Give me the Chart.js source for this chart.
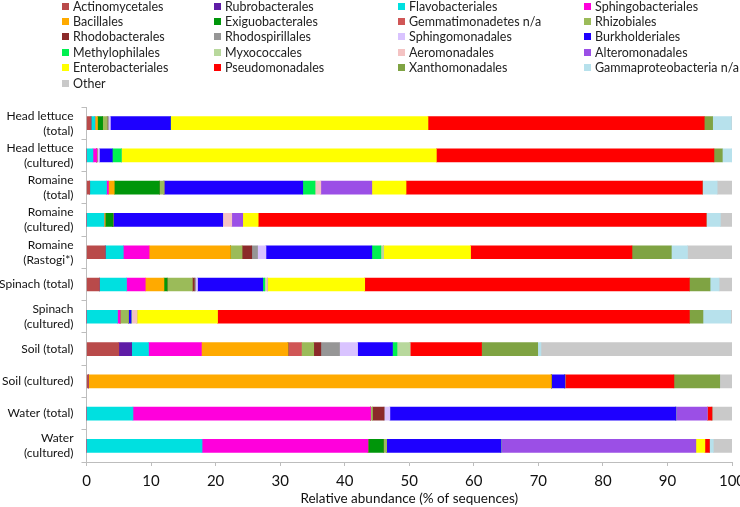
<!DOCTYPE html>
<html>
<head>
<meta charset="utf-8">
<script src="https://cdn.jsdelivr.net/npm/chart.js@4.4.1/dist/chart.umd.min.js"></script>
<style>
  body { margin: 0; background: #fff; }
  #wrap { position: relative; width: 740px; height: 507px; overflow: hidden; }
  #chart1 { position: absolute; left: 0; top: 0; }
  .leg { position: absolute; font-family: Lato, sans-serif; font-size: 12.5px; color: #222; line-height: 15px; white-space: nowrap; }
  .leg span { display: inline-block; width: 7px; height: 7px; margin-right: 4px; vertical-align: 1px; }
</style>
</head>
<body>
<div id="wrap">
  <canvas id="chart1" width="740" height="507"></canvas>
  <div id="legend"></div>
</div>
<script>
// samples (top to bottom)
var samples = [
  ["Head lettuce", "(total)"],
  ["Head lettuce", "(cultured)"],
  ["Romaine", "(total)"],
  ["Romaine", "(cultured)"],
  ["Romaine", "(Rastogi*)"],
  "Spinach (total)",
  ["Spinach", "(cultured)"],
  "Soil (total)",
  "Soil (cultured)",
  "Water (total)",
  ["Water", "(cultured)"]
];

// % of sequences per order, same order as samples
var actinomycetales    = [0.7, 0,   0.5,  0,    2.9,  2.0,  0,    5.0,  0.3,  0,    0];
var rubrobacterales    = [0,   0,   0,    0,    0,    0,    0,    2.0,  0,    0,    0];
var flavobacteriales   = [0.6, 1.0, 2.6,  2.7,  2.8,  4.2,  4.8,  2.6,  0,    7.2,  17.9];
var sphingobacteriales = [0,   0.6, 0.3,  0,    4.0,  2.9,  0.4,  8.2,  0,    36.8, 25.7];
var bacillales         = [0.4, 0,   0.9,  0.2,  12.6, 2.9,  0,    13.4, 71.7, 0,    0];
var exiguobacterales   = [0.8, 0,   7.0,  1.2,  0,    0.5,  0,    0,    0,    0,    2.4];
var gemmatimonadetes   = [0,   0,   0,    0,    0,    0,    0,    2.1,  0,    0,    0];
var rhizobiales        = [0.7, 0,   0.7,  0,    1.8,  3.9,  1.3,  1.9,  0,    0.3,  0.5];
var rhodobacterales    = [0,   0,   0,    0,    1.5,  0.3,  0,    1.1,  0,    1.8,  0];
var rhodospirillales   = [0.2, 0,   0,    0,    0.9,  0.2,  0,    2.9,  0,    0,    0];
var sphingomonadales   = [0.3, 0.4, 0,    0,    1.3,  0.3,  0,    2.8,  0,    0.9,  0];
var burkholderiales    = [9.3, 2.0, 21.5, 17.0, 16.4, 10.1, 0.4,  5.4,  2.1,  44.3, 17.7];
var methylophilales    = [0,   1.4, 1.9,  0,    1.4,  0.3,  0,    0.7,  0,    0,    0];
var myxococcales       = [0,   0,   0,    0,    0.4,  0.2,  0,    2.0,  0,    0,    0];
var aeromonadales      = [0,   0,   0.9,  1.4,  0,    0.2,  0.9,  0,    0,    0,    0];
var alteromonadales    = [0,   0,   7.9,  1.7,  0,    0,    0,    0,    0,    4.9,  30.2];
var enterobacteriales  = [39.9, 48.8, 5.3, 2.4, 13.5, 15.1, 12.5, 0,    0,    0,    1.4];
var pseudomonadales    = [42.8, 43.0, 45.9, 69.4, 25.0, 50.3, 73.1, 11.1, 16.9, 0.7, 0.7];
var xanthomonadales    = [1.3, 1.3, 0,    0,    6.1,  3.2,  2.1,  8.7,  7.1,  0,    0];
var gammaNA            = [2.9, 1.5, 2.3,  2.2,  2.5,  1.4,  4.3,  0.5,  0,    0,    0.6];
var other              = [0.3, 0.1, 2.3,  1.8,  6.9,  2.0,  0.2,  29.6, 1.9,  3.1,  2.9];

var xTicks = [0, 10, 20, 30, 40, 50, 60, 70, 80, 90, 100];

var orders = [
  ["Actinomycetales", actinomycetales, "#B94A4A"],
  ["Rubrobacterales", rubrobacterales, "#5F1CA6"],
  ["Flavobacteriales", flavobacteriales, "#00E0E0"],
  ["Sphingobacteriales", sphingobacteriales, "#FF00DC"],
  ["Bacillales", bacillales, "#FFAA00"],
  ["Exiguobacterales", exiguobacterales, "#00960A"],
  ["Gemmatimonadetes n/a", gemmatimonadetes, "#D05656"],
  ["Rhizobiales", rhizobiales, "#9BBB59"],
  ["Rhodobacterales", rhodobacterales, "#8B2A2A"],
  ["Rhodospirillales", rhodospirillales, "#969696"],
  ["Sphingomonadales", sphingomonadales, "#D9C3FF"],
  ["Burkholderiales", burkholderiales, "#1E00FF"],
  ["Methylophilales", methylophilales, "#00F050"],
  ["Myxococcales", myxococcales, "#B8D89C"],
  ["Aeromonadales", aeromonadales, "#F4C3C3"],
  ["Alteromonadales", alteromonadales, "#9B4FE6"],
  ["Enterobacteriales", enterobacteriales, "#FFFF00"],
  ["Pseudomonadales", pseudomonadales, "#FF0000"],
  ["Xanthomonadales", xanthomonadales, "#7FA343"],
  ["Gammaproteobacteria n/a", gammaNA, "#B7E1EC"],
  ["Other", other, "#C9C9C9"]
];

function buildLegend() {
  var cols = [62, 214, 398, 584];
  var legend = document.getElementById("legend");
  for (var i = 0; i < orders.length; i++) {
    var d = document.createElement("div");
    d.className = "leg";
    d.style.left = cols[i % 4] + "px";
    d.style.top = (-1.5 + Math.floor(i / 4) * 15.4) + "px";
    d.innerHTML = '<span style="background:' + orders[i][2] + '"></span>' + orders[i][0];
    legend.appendChild(d);
  }
}

function drawGraph() {
  buildLegend();
  var ctx = document.getElementById("chart1").getContext("2d");
  var datasets = orders.map(function (o) {
    return { label: o[0], data: o[1], backgroundColor: o[2], barThickness: 13, borderWidth: 0 };
  });

  new Chart(ctx, {
    type: "bar",
    data: { labels: samples, datasets: datasets },
    options: {
      indexAxis: "y",
      responsive: false,
      animation: false,
      layout: { padding: { top: 107, right: 8, left: 0, bottom: 0 } },
      plugins: { legend: { display: false }, tooltip: { enabled: false } },
      scales: {
        x: {
          stacked: true,
          min: 0,
          max: 100,
          afterBuildTicks: function (scale) {
            scale.ticks = xTicks.map(function (v) { return { value: v }; });
          },
          afterFit: function (scale) {
            scale.height = 45;
            scale.paddingLeft = 0;
            scale.paddingRight = 0;
          },
          grid: { drawOnChartArea: false, tickLength: 4, color: "#bdbdbd" },
          border: { color: "#bdbdbd" },
          ticks: { padding: 6, color: "#111", font: { family: "Lato", size: 15 } },
          title: {
            display: true,
            text: "Relative abundance (% of sequences)",
            color: "#111",
            font: { family: "Lato", size: 13.5 },
            padding: { top: 0, bottom: 0 }
          }
        },
        y: {
          stacked: true,
          afterFit: function (scale) {
            scale.width = 86.5;
            scale.paddingTop = 0;
            scale.paddingBottom = 0;
          },
          grid: { offset: true, drawOnChartArea: false, tickLength: 5, color: "#bdbdbd" },
          border: { color: "#bdbdbd" },
          ticks: { autoSkip: false, padding: 8, color: "#111", font: { family: "Lato", size: 12, lineHeight: 1.25 } }
        }
      }
    }
  });
}
window.onload = drawGraph;
</script>
</body>
</html>
